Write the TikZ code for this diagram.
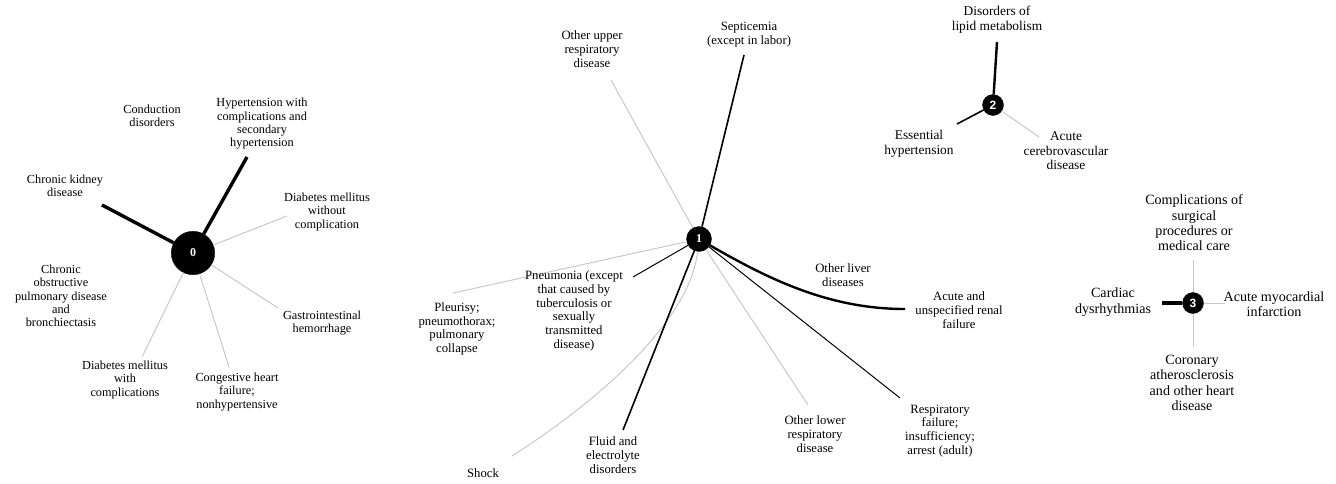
\documentclass[tikz,border=0pt]{standalone}
\usepackage{fontspec}
\setmainfont{Liberation Serif}
\newfontfamily\hubsf{Liberation Sans}
\definecolor{edgegray}{RGB}{200,200,200}
\tikzset{
  hub/.style = {circle, fill=black, draw=black, inner sep=0pt, text=white,
    font=\fontsize{12}{12}\selectfont\bfseries},
  hub_0/.style = {hub, minimum size=43.4pt},% grand noeud
  hub_1/.style = {hub, minimum size=25pt},
  hub_s/.style = {hub, minimum size=21pt,
    font=\fontsize{12}{12}\selectfont\hubsf\bfseries},% petit noeud, sans
  lbl/.style = {align=center, inner sep=0pt},
  lbl_a/.style = {lbl, font=\fontsize{12.3}{13.3}\selectfont},% groupe 0
  lbl_b/.style = {lbl, font=\fontsize{12.7}{13.8}\selectfont},% groupe 1
  lbl_c/.style = {lbl, font=\fontsize{13.4}{14.6}\selectfont},% groupe 2
  lbl_d/.style = {lbl, font=\fontsize{14.1}{15.3}\selectfont},% groupe 3
  e_gray/.style = {draw=edgegray, line width=1pt},
  e_thin/.style = {draw=black, line width=1pt},
  e_mid/.style = {draw=black, line width=1.6pt},
  e_bold/.style = {draw=black, line width=2.4pt},
  e_thick/.style = {draw=black, line width=3.4pt}
}
\begin{document}
\begin{tikzpicture}[x=1pt,y=-1pt]
\useasboundingbox (0,0) rectangle (1336,483);
% groupe 0
\node [hub_0] (n0) at (193,253) {0};
\node [lbl_a] (ckd) at (65,186) {Chronic kidney\\disease};
\node [lbl_a] (hyp) at (262,124) {Hypertension with\\complications and\\secondary\\hypertension};
\node [lbl_a] (cond) at (152,116) {Conduction\\disorders};
\node [lbl_a] (dmw) at (327,212) {Diabetes mellitus\\without\\complication};
\node [lbl_a] (gi) at (322,323) {Gastrointestinal\\hemorrhage};
\node [lbl_a] (chf) at (237,392) {Congestive heart\\failure;\\nonhypertensive};
\node [lbl_a] (dmc) at (125,380) {Diabetes mellitus\\with\\complications};
\node [lbl_a] (copd) at (61,296) {Chronic\\obstructive\\pulmonary disease\\and\\bronchiectasis};
\coordinate (ckd_e) at (102,205);
\coordinate (hyp_e) at (247,157);
\coordinate (dmw_e) at (287,216);
\coordinate (gi_e) at (278,308);
\coordinate (chf_e) at (229,367);
\coordinate (dmc_e) at (142,357);
\draw [e_thick] (n0) -- (ckd_e);
\draw [e_thick] (n0) -- (hyp_e);
\draw [e_gray] (n0) -- (dmw_e);
\draw [e_gray] (n0) -- (gi_e);
\draw [e_gray] (n0) -- (chf_e);
\draw [e_gray] (n0) -- (dmc_e);
% groupe 1
\coordinate (sep_e) at (744,55);
\coordinate (oup_e) at (611,80);
\coordinate (ple_e) at (453,293);
\coordinate (pne_e) at (633,277);
\coordinate (sh_e) at (512,456);
\coordinate (fl_e) at (623,430);
\coordinate (olw_e) at (808,405);
\coordinate (rsp_e) at (900,398);
\coordinate (rn_e) at (905,309);
\node [hub_1] (n1) at (699,239) {1};
\draw [e_gray] (n1) -- (oup_e);
\draw [e_gray] (n1) -- (ple_e);
\draw [e_gray] (n1) -- (olw_e);
\draw [e_gray] (n1) .. controls (690,320) and (600,400) .. (sh_e);
\draw [e_mid] (n1) -- (sep_e);
\draw [e_thin] (n1) -- (pne_e);
\draw [e_mid] (n1) -- (fl_e);
\draw [e_thin] (n1) -- (rsp_e);
\draw [e_bold] (n1) .. controls (770,280) and (830,309) .. (rn_e);
\node [lbl_b] (sep) at (749,35) {Septicemia\\(except in labor)};
\node [lbl_b] (oup) at (592,49) {Other upper\\respiratory\\disease};
\node [lbl_b] (ple) at (457,329) {Pleurisy;\\pneumothorax;\\pulmonary\\collapse};
\node [lbl_b] (pne) at (574,311) {Pneumonia (except\\that caused by\\tuberculosis or\\sexually\\transmitted\\disease)};
\node [lbl_b] (shock) at (483,473) {Shock};
\node [lbl_b] (fluid) at (613,455) {Fluid and\\electrolyte\\disorders};
\node [lbl_b] (olow) at (815,434) {Other lower\\respiratory\\disease};
\node [lbl_b] (resp) at (940,431) {Respiratory\\failure;\\insufficiency;\\arrest (adult)};
\node [lbl_b] (renal) at (959,310) {Acute and\\unspecified renal\\failure};
\node [lbl_b] (liver) at (843,275) {Other liver\\diseases};
% groupe 2
\node [hub_s] (n2) at (993,105) {2};
\node [lbl_c] (lipid) at (997,20) {Disorders of\\lipid metabolism};
\node [lbl_c] (ess) at (919,144) {Essential\\hypertension};
\node [lbl_c] (acv) at (1066,151) {Acute\\cerebrovascular\\disease};
\coordinate (lip_e) at (997,42);
\coordinate (ess_e) at (957,124);
\coordinate (acv_e) at (1039,137);
\draw [e_bold] (n2) -- (lip_e);
\draw [e_mid] (n2) -- (ess_e);
\draw [e_gray] (n2) -- (acv_e);
% groupe 3
\node [hub_s] (n3) at (1193,303) {3};
\node [lbl_d] (comp) at (1194,223) {Complications of\\surgical\\procedures or\\medical care};
\node [lbl_d] (card) at (1113,302) {Cardiac\\dysrhythmias};
\node [lbl_d] (ami) at (1274,304) {Acute myocardial\\infarction};
\node [lbl_d] (cor) at (1192,383) {Coronary\\atherosclerosis\\and other heart\\disease};
\coordinate (comp_e) at (1193,260);
\coordinate (card_e) at (1162,303);
\coordinate (ami_e) at (1225,303);
\coordinate (cor_e) at (1193,347);
\draw [e_gray] (n3) -- (comp_e);
\draw [e_thick] (n3) -- (card_e);
\draw [e_gray] (n3) -- (ami_e);
\draw [e_gray] (n3) -- (cor_e);
\end{tikzpicture}
\end{document}
